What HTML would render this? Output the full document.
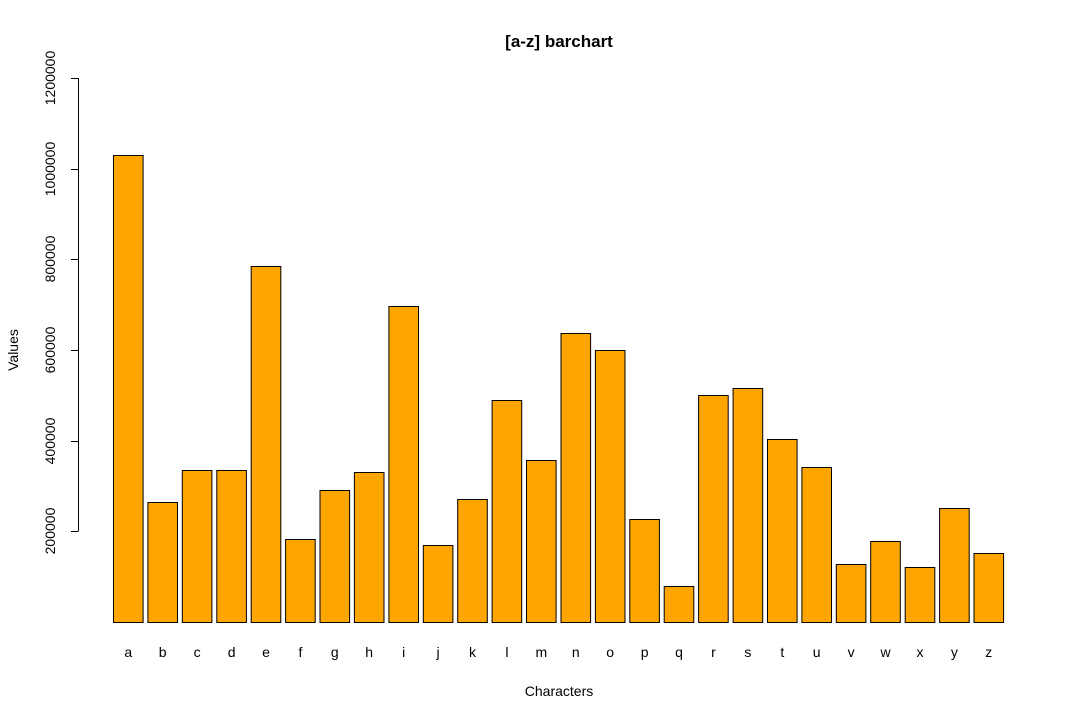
<!DOCTYPE html>
<html><head><style>html,body{margin:0;padding:0;background:#fff}svg{display:block}text{font-family:"Liberation Sans",Arial,sans-serif;fill:#000}</style></head>
<body>
<svg width="1080" height="720" xmlns="http://www.w3.org/2000/svg">
<text x="559" y="47" font-size="17" font-weight="bold" text-anchor="middle">[a-z] barchart</text>
<g stroke="#000" stroke-width="1">
<line x1="78.5" y1="78" x2="78.5" y2="531"/>
<line x1="71" y1="531.5" x2="78.5" y2="531.5"/>
<line x1="71" y1="441.5" x2="78.5" y2="441.5"/>
<line x1="71" y1="350.5" x2="78.5" y2="350.5"/>
<line x1="71" y1="259.5" x2="78.5" y2="259.5"/>
<line x1="71" y1="169.5" x2="78.5" y2="169.5"/>
<line x1="71" y1="78.5" x2="78.5" y2="78.5"/>
</g>
<g font-size="14" text-anchor="middle">
<text transform="translate(55,531) rotate(-90)">200000</text>
<text transform="translate(55,441) rotate(-90)">400000</text>
<text transform="translate(55,350) rotate(-90)">600000</text>
<text transform="translate(55,259) rotate(-90)">800000</text>
<text transform="translate(55,169) rotate(-90)">1000000</text>
<text transform="translate(55,78) rotate(-90)">1200000</text>
<text transform="translate(18,350) rotate(-90)">Values</text>
<text x="559" y="696">Characters</text>
</g>
<g fill="#FFA500" stroke="#000" stroke-width="1">
<rect x="113.5" y="155.5" width="29.6" height="467"/>
<rect x="147.9" y="502.5" width="29.6" height="120"/>
<rect x="182.3" y="470.5" width="29.6" height="152"/>
<rect x="216.8" y="470.5" width="29.6" height="152"/>
<rect x="251.2" y="266.5" width="29.6" height="356"/>
<rect x="285.6" y="539.5" width="29.6" height="83"/>
<rect x="320.0" y="490.5" width="29.6" height="132"/>
<rect x="354.4" y="472.5" width="29.6" height="150"/>
<rect x="388.9" y="306.5" width="29.6" height="316"/>
<rect x="423.3" y="545.5" width="29.6" height="77"/>
<rect x="457.7" y="499.5" width="29.6" height="123"/>
<rect x="492.1" y="400.5" width="29.6" height="222"/>
<rect x="526.5" y="460.5" width="29.6" height="162"/>
<rect x="561.0" y="333.5" width="29.6" height="289"/>
<rect x="595.4" y="350.5" width="29.6" height="272"/>
<rect x="629.8" y="519.5" width="29.6" height="103"/>
<rect x="664.2" y="586.5" width="29.6" height="36"/>
<rect x="698.6" y="395.5" width="29.6" height="227"/>
<rect x="733.1" y="388.5" width="29.6" height="234"/>
<rect x="767.5" y="439.5" width="29.6" height="183"/>
<rect x="801.9" y="467.5" width="29.6" height="155"/>
<rect x="836.3" y="564.5" width="29.6" height="58"/>
<rect x="870.7" y="541.5" width="29.6" height="81"/>
<rect x="905.2" y="567.5" width="29.6" height="55"/>
<rect x="939.6" y="508.5" width="29.6" height="114"/>
<rect x="974.0" y="553.5" width="29.6" height="69"/>
</g>
<g font-size="14" text-anchor="middle">
<text x="128.3" y="657">a</text><text x="162.7" y="657">b</text><text x="197.1" y="657">c</text><text x="231.6" y="657">d</text><text x="266.0" y="657">e</text><text x="300.4" y="657">f</text><text x="334.8" y="657">g</text><text x="369.2" y="657">h</text><text x="403.7" y="657">i</text><text x="438.1" y="657">j</text><text x="472.5" y="657">k</text><text x="506.9" y="657">l</text><text x="541.3" y="657">m</text><text x="575.8" y="657">n</text><text x="610.2" y="657">o</text><text x="644.6" y="657">p</text><text x="679.0" y="657">q</text><text x="713.4" y="657">r</text><text x="747.9" y="657">s</text><text x="782.3" y="657">t</text><text x="816.7" y="657">u</text><text x="851.1" y="657">v</text><text x="885.5" y="657">w</text><text x="920.0" y="657">x</text><text x="954.4" y="657">y</text><text x="988.8" y="657">z</text>
</g>
</svg>
</body></html>
